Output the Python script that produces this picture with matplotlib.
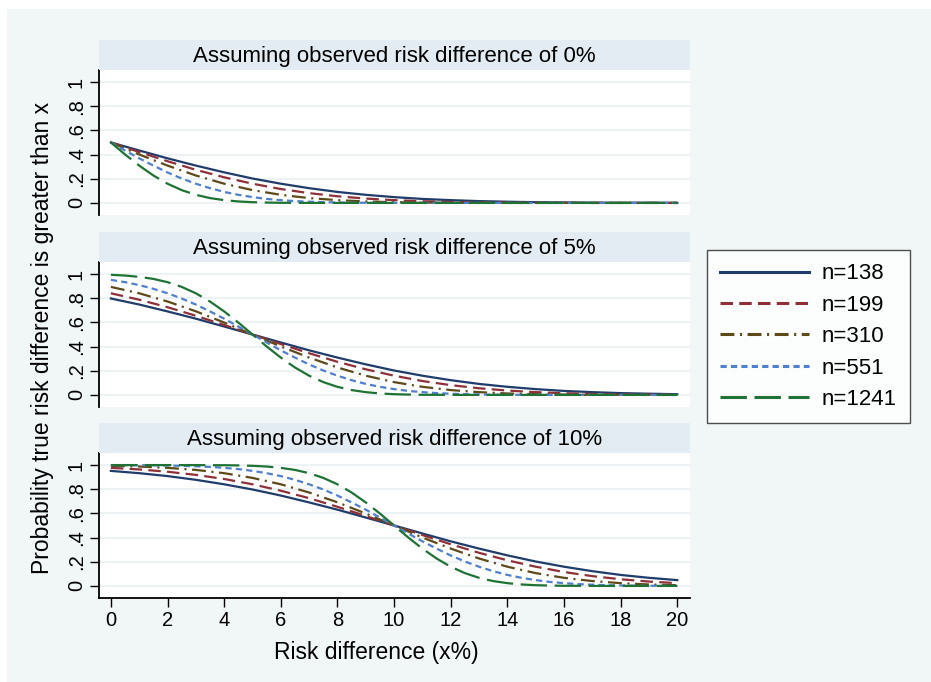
import matplotlib
matplotlib.use("Agg")
import matplotlib.pyplot as plt
from matplotlib.patches import Rectangle

plt.rcParams["font.family"] = ["Liberation Sans", "DejaVu Sans"]
plt.rcParams["lines.scale_dashes"] = False

# x axis: risk difference (%); finer grid used for the steeper curves
x = [0, 1, 2, 3, 4, 5, 6, 7, 8, 9, 10, 11, 12, 13, 14, 15, 16, 17, 18, 19, 20]
x_fine = [0, .5, 1, 1.5, 2, 2.5, 3, 3.5, 4, 4.5, 5, 5.5, 6, 6.5, 7, 7.5, 8, 8.5, 9, 9.5, 10,
          10.5, 11, 11.5, 12, 12.5, 13, 13.5, 14, 14.5, 15, 15.5, 16, 16.5, 17, 17.5, 18, 18.5, 19, 19.5, 20]

labels = ["n=138", "n=199", "n=310", "n=551", "n=1241"]
titles = [
    "Assuming observed risk difference of 0%",
    "Assuming observed risk difference of 5%",
    "Assuming observed risk difference of 10%",
]

# probability true risk difference > x, observed 0%
p0_n138 = [.500, .434, .369, .309, .253, .202, .159, .122, .091, .067, .048, .033, .023, .015, .010, .006, .004, .002, .001, .001, .000]
p0_n199 = [.500, .421, .345, .274, .212, .159, .115, .081, .055, .036, .023, .014, .008, .005, .003, .001, .001, .000, .000, .000, .000]
p0_n310 = [.500, .401, .309, .227, .159, .106, .067, .040, .023, .012, .006, .003, .001, .001, .000, .000, .000, .000, .000, .000, .000]
p0_n551 = [.500, .434, .369, .309, .252, .202, .159, .122, .091, .067, .048, .033, .023, .015, .010, .006, .004, .002, .001, .001, .000,
           .000, .000, .000, .000, .000, .000, .000, .000, .000, .000, .000, .000, .000, .000, .000, .000, .000, .000, .000, .000]
p0_n1241 = [.500, .401, .309, .227, .159, .106, .067, .040, .023, .012, .006, .003, .001, .001, .000, .000, .000, .000, .000, .000, .000,
            .000, .000, .000, .000, .000, .000, .000, .000, .000, .000, .000, .000, .000, .000, .000, .000, .000, .000, .000, .000]

# observed 5%
p5_n138 = [.798, .748, .691, .631, .566, .500, .434, .369, .309, .253, .202, .159, .122, .091, .067, .048, .033, .023, .015, .010, .006]
p5_n199 = [.841, .788, .726, .655, .579, .500, .421, .345, .274, .212, .159, .115, .081, .055, .036, .023, .014, .008, .005, .003, .001]
p5_n310 = [.894, .841, .773, .692, .599, .500, .401, .309, .227, .159, .106, .067, .040, .023, .012, .006, .003, .001, .001, .000, .000]
p5_n551 = [.952, .933, .909, .878, .841, .798, .748, .691, .631, .566, .500, .434, .369, .309, .252, .202, .159, .122, .091, .067, .048,
           .033, .023, .015, .010, .006, .004, .002, .001, .001, .000, .000, .000, .000, .000, .000, .000, .000, .000, .000, .000]
p5_n1241 = [.994, .988, .977, .960, .933, .894, .841, .773, .691, .599, .500, .401, .309, .227, .159, .106, .067, .040, .023, .012, .006,
            .003, .001, .001, .000, .000, .000, .000, .000, .000, .000, .000, .000, .000, .000, .000, .000, .000, .000, .000, .000]

# observed 10%
p10_n138 = [.952, .933, .909, .878, .841, .798, .748, .691, .631, .566, .500, .434, .369, .309, .253, .202, .159, .122, .091, .067, .048]
p10_n199 = [.977, .964, .945, .919, .885, .841, .788, .726, .655, .579, .500, .421, .345, .274, .212, .159, .115, .081, .055, .036, .023]
p10_n310 = [.994, .988, .977, .960, .933, .894, .841, .773, .692, .599, .500, .401, .309, .227, .159, .106, .067, .040, .023, .012, .006]
p10_n551 = [1.00, .999, .999, .998, .996, .994, .990, .985, .977, .967, .952, .933, .909, .878, .841, .798, .748, .691, .631, .566, .500,
            .434, .369, .309, .252, .202, .159, .122, .091, .067, .048, .033, .023, .015, .010, .006, .004, .002, .001, .001, .000]
p10_n1241 = [1.00, 1.00, 1.00, 1.00, 1.00, 1.00, 1.00, .999, .999, .997, .994, .988, .977, .960, .933, .894, .841, .773, .691, .599, .500,
             .401, .309, .227, .159, .106, .067, .040, .023, .012, .006, .003, .001, .001, .000, .000, .000, .000, .000, .000, .000]

panels = [
    [p0_n138, p0_n199, p0_n310, p0_n551, p0_n1241],
    [p5_n138, p5_n199, p5_n310, p5_n551, p5_n1241],
    [p10_n138, p10_n199, p10_n310, p10_n551, p10_n1241],
]

colors = ["#1f3c6b", "#8f3038", "#5e4a18", "#4f7fcf", "#1e7233"]
dashes = [None, (9, 4.5), (10, 4, 1.5, 4), (4.5, 3), (19, 5.5)]

bg = "#f1f6f7"
band = "#e3ecf2"
grid = "#eaf1f3"

W, H = 931, 682
fig = plt.figure(figsize=(W / 100, H / 100), dpi=100)
fig.patch.set_facecolor("white")
fig.patches.append(Rectangle((7 / W, 0), 1, 1 - 9 / H, transform=fig.transFigure,
                             facecolor=bg, edgecolor="none", zorder=-10))

left = 99 / W
width = 591 / W
plot_h = 145 / H
band_h = 30 / H
tops = [70, 262, 453]  # top of each plot area (px from top)

handles = []
for i, (series, title) in enumerate(zip(panels, titles)):
    bottom = 1 - (tops[i] + 145) / H
    ax = fig.add_axes([left, bottom, width, plot_h])
    ax.set_facecolor("white")
    for s in ["top", "right"]:
        ax.spines[s].set_visible(False)
    ax.spines["bottom"].set_visible(i == 2)
    ax.spines["left"].set_linewidth(1.3)
    ax.spines["bottom"].set_linewidth(1.3)
    ax.set_xlim(-0.42, 20.45)
    ax.set_ylim(-0.1, 1.1)
    ax.set_yticks([0, .2, .4, .6, .8, 1])
    ax.set_yticklabels(["0", ".2", ".4", ".6", ".8", "1"], rotation=90, va="center")
    ax.tick_params(axis="y", length=6.5, width=1, labelsize=14.5, pad=3)
    ax.grid(axis="y", color=grid, lw=1.2)
    ax.set_axisbelow(True)
    if i == 2:
        ax.set_xticks(range(0, 21, 2))
        ax.tick_params(axis="x", length=6.5, width=1, labelsize=14.5, pad=3)
    else:
        ax.set_xticks([])

    for y, c, d, lab in zip(series, colors, dashes, labels):
        xs = x_fine if len(y) == len(x_fine) else x
        (ln,) = ax.plot(xs, y, color=c, lw=1.6, label=lab)
        if d is not None:
            ln.set_dashes(d)
        if i == 0:
            handles.append(ln)

    # title band
    bax = fig.add_axes([left, 1 - tops[i] / H, width, band_h])
    bax.set_facecolor(band)
    bax.set_xticks([])
    bax.set_yticks([])
    for s in bax.spines.values():
        s.set_visible(False)
    bax.text(0.5, 0.45, title, ha="center", va="center", fontsize=16, transform=bax.transAxes)

fig.text(376 / W, 1 - 652 / H, "Risk difference (x%)", ha="center", va="center", fontsize=16.5)
fig.text(43 / W, 1 - 338 / H, "Probability true risk difference is greater than x",
         rotation=90, ha="center", va="center", fontsize=16.5)

leg = fig.legend(handles=handles, loc="upper left", bbox_to_anchor=(707 / W, 1 - 250 / H),
                 fontsize=16, frameon=True, fancybox=False, edgecolor="#222222",
                 handlelength=4.0, handletextpad=0.55, labelspacing=0.47,
                 borderpad=0.6, borderaxespad=0)
leg.get_frame().set_linewidth(1.0)
for ln in leg.get_lines():
    ln.set_linewidth(2.2)

fig.savefig("out.png", dpi=100, facecolor=fig.get_facecolor())
